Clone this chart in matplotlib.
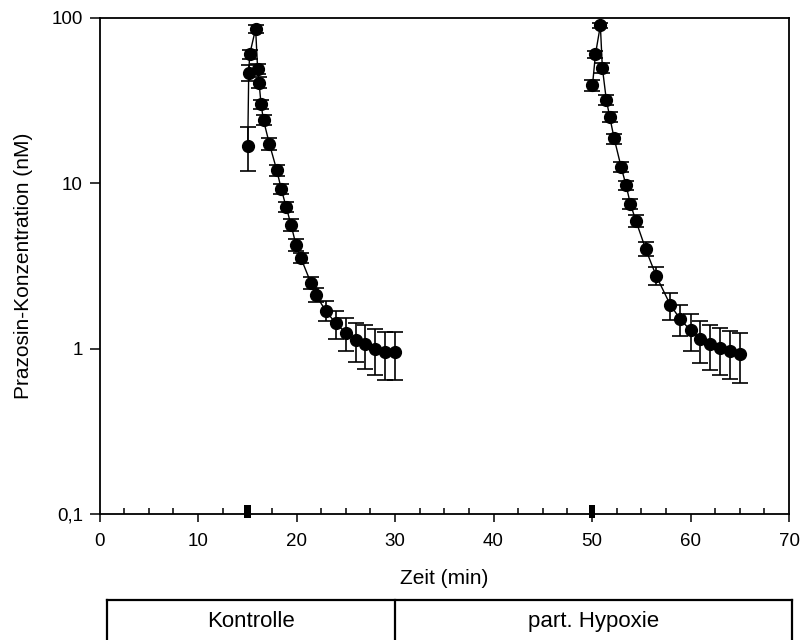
import matplotlib
matplotlib.use("Agg")
import matplotlib.pyplot as plt
from matplotlib.ticker import FixedLocator, MultipleLocator, NullLocator
from matplotlib.lines import Line2D
from matplotlib.patches import Rectangle
import matplotlib.transforms as mtransforms

plt.rcParams['font.family'] = ['Liberation Sans', 'DejaVu Sans']

# Prazosin concentration (nM), mean +- SD, control perfusion
t_kontrolle = [15.05, 15.15, 15.25, 15.85, 16.05, 16.2, 16.4, 16.65, 17.25, 18.0,
               18.45, 18.95, 19.45, 19.95, 20.45, 21.45, 21.95, 22.95, 24.0, 25.0,
               26.0, 27.0, 28.0, 29.0, 30.0]
c_kontrolle = [16.8, 46.8, 60.3, 86.2, 49.4, 40.7, 30.1, 24.1, 17.3, 12.0,
               9.24, 7.2, 5.6, 4.24, 3.53, 2.51, 2.12, 1.70, 1.42, 1.25,
               1.13, 1.07, 1.00, 0.955, 0.96]
sd_kontrolle = [5.0, 5.4, 3.5, 4.5, 3.3, 3.2, 2.0, 1.7, 1.5, 0.85,
                0.65, 0.5, 0.48, 0.35, 0.25, 0.21, 0.21, 0.24, 0.27, 0.28,
                0.30, 0.32, 0.31, 0.31, 0.31]

# Prazosin concentration (nM), mean +- SD, partial hypoxia
t_hypoxie = [50.05, 50.35, 50.85, 51.05, 51.45, 51.8, 52.25, 52.95, 53.45, 53.9,
             54.45, 55.45, 56.5, 57.95, 58.95, 60.0, 61.0, 62.0, 63.0, 64.0, 65.0]
c_hypoxie = [39.2, 60.3, 90.2, 50.1, 32.1, 25.2, 18.7, 12.6, 9.77, 7.5,
             5.95, 4.0, 2.77, 1.84, 1.51, 1.29, 1.15, 1.07, 1.01, 0.963, 0.933]
sd_hypoxie = [3.1, 3.0, 3.0, 3.5, 2.2, 1.75, 1.3, 0.95, 0.6, 0.5,
              0.47, 0.39, 0.35, 0.34, 0.32, 0.32, 0.33, 0.33, 0.32, 0.31, 0.31]

# bolus injection times (min)
bolus_zeit = [15.0, 50.0]

y_ticks = [0.1, 1, 10, 100]
y_ticklabels = ['0,1', '1', '10', '100']
x_ticks = [0, 10, 20, 30, 40, 50, 60, 70]
phasen = ['Kontrolle', 'part. Hypoxie']

W, H = 802, 640
fig = plt.figure(figsize=(W / 100, H / 100), dpi=100)
ax_l, ax_r, ax_t, ax_b = 99.5, 789, 18, 514
ax = fig.add_axes([ax_l / W, 1 - ax_b / H, (ax_r - ax_l) / W, (ax_b - ax_t) / H])

for t, c, sd in ((t_kontrolle, c_kontrolle, sd_kontrolle),
                 (t_hypoxie, c_hypoxie, sd_hypoxie)):
    ax.errorbar(t, c, yerr=sd, fmt='-o', color='black', lw=1.0, ms=8.5,
                mfc='black', mec='black', ecolor='black', elinewidth=1.2,
                capsize=5.5, capthick=1.2, zorder=3)

ax.set_yscale('log')
ax.set_ylim(0.1, 100)
ax.set_xlim(0, 70)
ax.yaxis.set_major_locator(FixedLocator(y_ticks))
ax.set_yticklabels(y_ticklabels)
ax.yaxis.set_minor_locator(NullLocator())
ax.xaxis.set_major_locator(FixedLocator(x_ticks))
ax.xaxis.set_minor_locator(MultipleLocator(2.5))

for s in ax.spines.values():
    s.set_linewidth(1.3)
ax.tick_params(axis='y', which='major', direction='out', length=7, width=1.1,
               labelsize=13.5, pad=5)
ax.tick_params(axis='x', which='major', direction='out', length=6, width=1.1,
               labelsize=13.5, pad=8)
ax.tick_params(axis='x', which='minor', direction='in', length=4.5, width=1.1)

ax.set_xlabel('Zeit (min)', fontsize=15, labelpad=13)
ax.set_ylabel('Prazosin-Konzentration (nM)', fontsize=15, labelpad=13)

# bolus markers sitting on the time axis
trans = mtransforms.blended_transform_factory(ax.transData, ax.transAxes)
for bz in bolus_zeit:
    ax.add_patch(Rectangle((bz - 0.35, -0.008), 0.7, 0.027, transform=trans,
                           facecolor='black', edgecolor='none', clip_on=False,
                           zorder=5))

# phase table below the axis
tb_left, tb_div, tb_right, tb_top = 107, 395, 792, 600
lw_tab = 1.6
fig.add_artist(Line2D([tb_left / W, tb_right / W], [1 - tb_top / H] * 2,
                      color='black', lw=lw_tab))
for xp in (tb_left, tb_div, tb_right):
    fig.add_artist(Line2D([xp / W] * 2, [1 - tb_top / H, -0.01],
                          color='black', lw=lw_tab))
fig.text((tb_left + tb_div) / 2 / W, 1 - 627 / H, phasen[0], fontsize=16,
         ha='center', va='baseline')
fig.text((tb_div + tb_right) / 2 / W, 1 - 627 / H, phasen[1], fontsize=16,
         ha='center', va='baseline')

fig.savefig('out.png', dpi=100)
